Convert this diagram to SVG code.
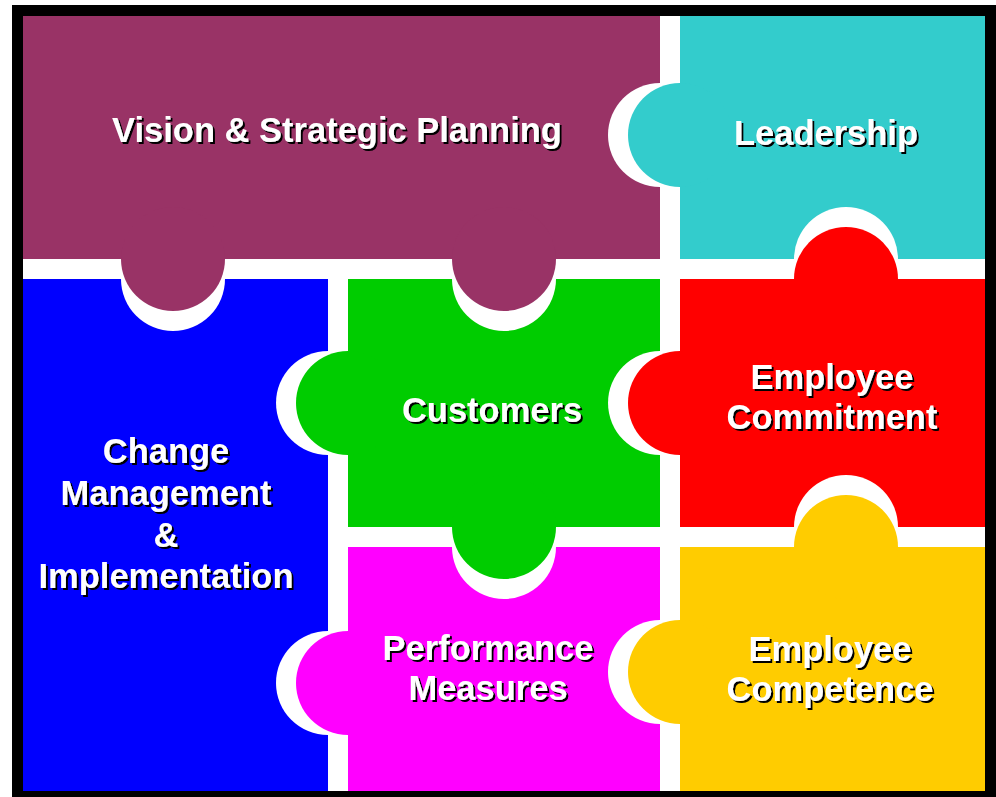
<svg xmlns="http://www.w3.org/2000/svg" width="996" height="797" viewBox="0 0 996 797">
<style>
text{font-family:"Liberation Sans",Arial,sans-serif;font-weight:bold;font-size:34.5px;text-anchor:middle;fill:#fff;filter:url(#shadow)}
.sock{fill:#fff}
</style>
<defs>
<filter id="shadow" x="-10%" y="-20%" width="120%" height="150%">
<feOffset in="SourceAlpha" dx="2" dy="2" result="off"/>
<feFlood flood-color="#000"/>
<feComposite in2="off" operator="in" result="sh"/>
<feMerge><feMergeNode in="sh"/><feMergeNode in="SourceGraphic"/></feMerge>
</filter>
</defs>
<rect x="12" y="5" width="984" height="792" fill="#000"/>
<rect x="23" y="16" width="962" height="775" fill="#fff"/>
<g id="connectors"/>
<g id="change">
<rect x="23" y="279" width="305" height="512" fill="#0000FF"/>
<path class="sock" d="M328,351 A52,52 0 0 0 328,455 Z"/>
<path class="sock" d="M328,631 A52,52 0 0 0 328,735 Z"/>
<path class="sock" d="M121,279 A52,52 0 0 0 225,279 Z"/>
<text x="166" y="463">Change</text>
<text x="166" y="505">Management</text>
<text x="166" y="547">&amp;</text>
<text x="166" y="588">Implementation</text>
</g>
<g id="performance">
<rect x="348" y="547" width="312" height="244" fill="#FF00FF"/>
<path class="sock" d="M452,547 A52,52 0 0 0 556,547 Z"/>
<path class="sock" d="M660,620 A52,52 0 0 0 660,724 Z"/>
<circle cx="348" cy="683" r="52" fill="#FF00FF"/>
<text x="488" y="660">Performance</text>
<text x="488" y="700">Measures</text>
</g>
<g id="customers">
<rect x="348" y="279" width="312" height="248" fill="#00CC00"/>
<path class="sock" d="M452,279 A52,52 0 0 0 556,279 Z"/>
<path class="sock" d="M660,351 A52,52 0 0 0 660,455 Z"/>
<circle cx="348" cy="403" r="52" fill="#00CC00"/>
<circle cx="504" cy="527" r="52" fill="#00CC00"/>
<text x="492" y="422">Customers</text>
</g>
<g id="vision">
<rect x="23" y="16" width="637" height="243" fill="#993366"/>
<path class="sock" d="M660,83 A52,52 0 0 0 660,187 Z"/>
<circle cx="173" cy="259" r="52" fill="#993366"/>
<circle cx="504" cy="259" r="52" fill="#993366"/>
<text x="337" y="142">Vision &amp; Strategic Planning</text>
</g>
<g id="leadership">
<rect x="680" y="16" width="305" height="243" fill="#33CCCC"/>
<path class="sock" d="M794,259 A52,52 0 0 1 898,259 Z"/>
<circle cx="680" cy="135" r="52" fill="#33CCCC"/>
<text x="826" y="145">Leadership</text>
</g>
<g id="commitment">
<rect x="680" y="279" width="305" height="248" fill="#FF0000"/>
<path class="sock" d="M794,527 A52,52 0 0 1 898,527 Z"/>
<circle cx="680" cy="403" r="52" fill="#FF0000"/>
<circle cx="846" cy="279" r="52" fill="#FF0000"/>
<text x="832" y="389">Employee</text>
<text x="832" y="429">Commitment</text>
</g>
<g id="competence">
<rect x="680" y="547" width="305" height="244" fill="#FFCC00"/>
<circle cx="680" cy="672" r="52" fill="#FFCC00"/>
<circle cx="846" cy="547" r="52" fill="#FFCC00"/>
<text x="830" y="661">Employee</text>
<text x="830" y="701">Competence</text>
</g>
</svg>
